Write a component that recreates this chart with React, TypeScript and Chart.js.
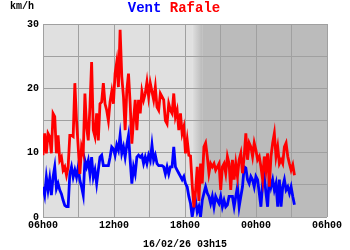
import React, { useEffect, useRef } from "react";
import { Chart, registerables } from "chart.js";

Chart.register(...registerables);

// Time axis: hours after 06h00 on the day before the report
const START_HOUR = 6;
const SAMPLE_MINUTES = 8.5;
const X_TICK_LABELS_EVERY = 6;
const DATE_LABEL = "16/02/26 03h15";
const UNIT_LABEL = "km/h";
const TITLE_WIND = "Vent";
const TITLE_GUST = "Rafale";
// night shading (hour of the day)
const DUSK_START = 18.6;
const DUSK_END = 19.45;

// Rafale (gusts), km/h
const GUSTS = [
  9.6, 13.0, 9.9, 13.0, 12.5, 9.9, 16.1, 15.6, 9.9, 12.7, 8.8, 9.3, 7.3, 7.8, 6.5, 7.8, 12.7, 12.7, 12.5, 20.8,
  15.0, 10.9, 6.7, 10.9, 9.9, 19.2, 14.0, 11.9, 17.1, 24.1, 13.5, 12.5, 16.1, 11.9, 17.6, 17.9, 20.8, 17.6, 16.6,
  15.0, 17.9, 19.5, 17.6, 22.3, 24.1, 20.2, 29.1, 21.8, 18.7, 13.5, 19.7, 22.3, 17.6, 11.4, 15.0, 18.2, 13.5, 18.2,
  16.1, 19.5, 18.2, 19.2, 21.0, 18.7, 20.8, 19.5, 18.2, 20.2, 17.1, 16.6, 19.2, 18.7, 18.2, 15.0, 14.5, 17.6, 16.6,
  16.1, 19.2, 15.6, 16.6, 13.5, 16.1, 13.0, 14.0, 9.9, 12.0, 9.6, 9.5, 5.0, 1.5, 4.0, 7.8, 2.5, 8.3, 5.2, 10.9,
  11.5, 9.4, 6.8, 8.3, 7.8, 8.3, 7.3, 7.8, 8.3, 4.2, 7.8, 8.3, 6.8, 9.4, 8.3, 4.2, 8.9, 5.8, 8.3,
  6.3, 8.9, 9.9, 6.8, 9.4, 13.0, 8.9, 11.5, 10.9, 9.4, 11.5, 10.4, 8.9, 9.4, 7.8, 5.8, 9.4, 7.3, 9.9, 4.7, 9.4,
  11.5, 13.0, 9.4, 10.9, 8.3, 8.9, 8.3, 10.9, 11.5, 9.4, 8.3, 7.3, 8.1, 6.5,
];

// Vent (mean wind), km/h
const WIND = [
  4.7, 3.4, 6.2, 4.2, 6.0, 3.4, 6.2, 7.8, 4.4, 5.2, 4.2, 3.6, 2.6, 1.8, 1.6, 1.6, 6.7, 7.8, 6.2, 7.3,
  6.2, 7.8, 5.7, 4.7, 3.4, 8.8, 7.8, 8.8, 6.7, 9.3, 6.2, 7.3, 5.2, 7.3, 9.3, 9.6, 8.0, 8.0, 8.0,
  8.0, 9.3, 10.9, 10.6, 9.6, 11.2, 10.4, 12.7, 9.9, 10.9, 9.3, 11.2, 12.7, 8.8, 5.2, 7.8, 6.7, 9.3, 9.6,
  9.3, 9.6, 8.3, 9.3, 8.3, 9.6, 8.8, 11.2, 8.8, 9.6, 8.3, 8.0, 8.0, 8.0, 7.8, 6.7, 7.8, 6.7, 7.8,
  7.8, 10.9, 7.8, 7.3, 6.8, 6.3, 5.8, 6.3, 5.2, 4.7, 3.2, 2.1, 0, 1.6, 2.6, 0.8, 1.6, 0, 2.6, 3.7,
  4.7, 3.7, 3.2, 2.1, 3.2, 1.6, 3.2, 2.6, 2.1, 3.2, 1.6, 2.6, 1.6, 1.9, 3.2, 3.2, 3.2, 1.6, 3.2,
  4.7, 1.6, 3.2, 4.7, 7.8, 7.6, 5.8, 5.2, 6.3, 5.8, 4.7, 6.3, 5.8, 3.7, 1.6, 5.2, 6.3, 3.7, 1.6, 6.3,
  4.7, 5.8, 4.2, 5.2, 1.6, 5.8, 1.6, 4.7, 5.8, 4.2, 4.7, 3.7, 4.7, 3.2, 1.9,
];

const FONT = "'Liberation Mono', 'DejaVu Sans Mono', monospace";

const hourLabel = (v: number) =>
  String((START_HOUR + v) % 24).padStart(2, "0") + "h00";

const decorPlugin = {
  id: "decor",
  beforeDraw(chart: any) {
    const { ctx, chartArea, scales } = chart;
    const { left, right, top, bottom } = chartArea;
    const x0 = scales.x.getPixelForValue(DUSK_START - START_HOUR);
    const x1 = scales.x.getPixelForValue(DUSK_END - START_HOUR);
    ctx.save();
    ctx.fillStyle = "#e0e0e0";
    ctx.fillRect(left, top, x0 - left, bottom - top);
    const g = ctx.createLinearGradient(x0, 0, x1, 0);
    g.addColorStop(0, "#e0e0e0");
    g.addColorStop(1, "#bbbbbb");
    ctx.fillStyle = g;
    ctx.fillRect(x0, top, x1 - x0, bottom - top);
    ctx.fillStyle = "#bbbbbb";
    ctx.fillRect(x1, top, right - x1, bottom - top);
    ctx.restore();
  },
  afterDraw(chart: any) {
    const { ctx } = chart;
    ctx.save();
    ctx.textBaseline = "middle";
    ctx.font = "bold 14px " + FONT;
    const full = TITLE_WIND + " " + TITLE_GUST;
    const w = ctx.measureText(full).width;
    const tx = 174 - w / 2;
    ctx.textAlign = "left";
    ctx.fillStyle = "#0000ff";
    ctx.fillText(TITLE_WIND, tx, 8);
    ctx.fillStyle = "#ff0000";
    ctx.fillText(TITLE_GUST, tx + ctx.measureText(TITLE_WIND + " ").width, 8);
    ctx.font = "bold 10px " + FONT;
    ctx.fillStyle = "#000";
    ctx.fillText(UNIT_LABEL, 10, 6);
    ctx.restore();
  },
};

export default function App() {
  const ref = useRef<HTMLCanvasElement>(null);
  useEffect(() => {
    document.body.style.margin = "0";
    const toPoints = (arr: number[]) =>
      arr.map((v, i) => ({ x: (i * SAMPLE_MINUTES) / 60, y: v }));
    const tickFont = { family: FONT, size: 10, weight: "bold" as const };
    const chart = new Chart(ref.current!, {
      type: "line",
      data: {
        datasets: [
          {
            label: TITLE_GUST,
            data: toPoints(GUSTS),
            borderColor: "#ff0000",
            borderWidth: 2.8,
            pointRadius: 0,
            tension: 0,
          },
          {
            label: TITLE_WIND,
            data: toPoints(WIND),
            borderColor: "#0000ff",
            borderWidth: 2.8,
            pointRadius: 0,
            tension: 0,
          },
        ],
      },
      options: {
        animation: false,
        responsive: false,
        maintainAspectRatio: false,
        layout: { padding: { top: 24, right: 23, left: 0, bottom: 0 } },
        plugins: {
          legend: { display: false },
          tooltip: { enabled: false },
          title: { display: false },
        },
        scales: {
          x: {
            type: "linear",
            min: 0,
            max: 24,
            afterFit: (s: any) => {
              s.height = 33;
            },
            grid: { color: "#a0a0a0", lineWidth: 1, drawTicks: false },
            border: { display: false },
            ticks: {
              stepSize: 3,
              autoSkip: false,
              maxRotation: 0,
              padding: 2,
              color: "#000",
              font: tickFont,
              callback: (v: any) =>
                Number(v) % X_TICK_LABELS_EVERY === 0 ? hourLabel(Number(v)) : "",
            },
            title: {
              display: true,
              text: DATE_LABEL,
              color: "#000",
              font: tickFont,
              padding: { top: 0, bottom: 0 },
            },
          },
          y: {
            min: 0,
            max: 30,
            afterFit: (s: any) => {
              s.width = 43;
            },
            grid: { color: "#a0a0a0", lineWidth: 1, drawTicks: false },
            border: { display: false },
            ticks: {
              stepSize: 5,
              padding: 4,
              color: "#000",
              font: tickFont,
              callback: (v: any) => (Number(v) % 10 === 0 ? String(v) : ""),
            },
          },
        },
      },
      plugins: [decorPlugin],
    });
    return () => chart.destroy();
  }, []);
  return (
    <div style={{ width: 350, height: 250 }}>
      <canvas ref={ref} width={350} height={250} />
    </div>
  );
}
